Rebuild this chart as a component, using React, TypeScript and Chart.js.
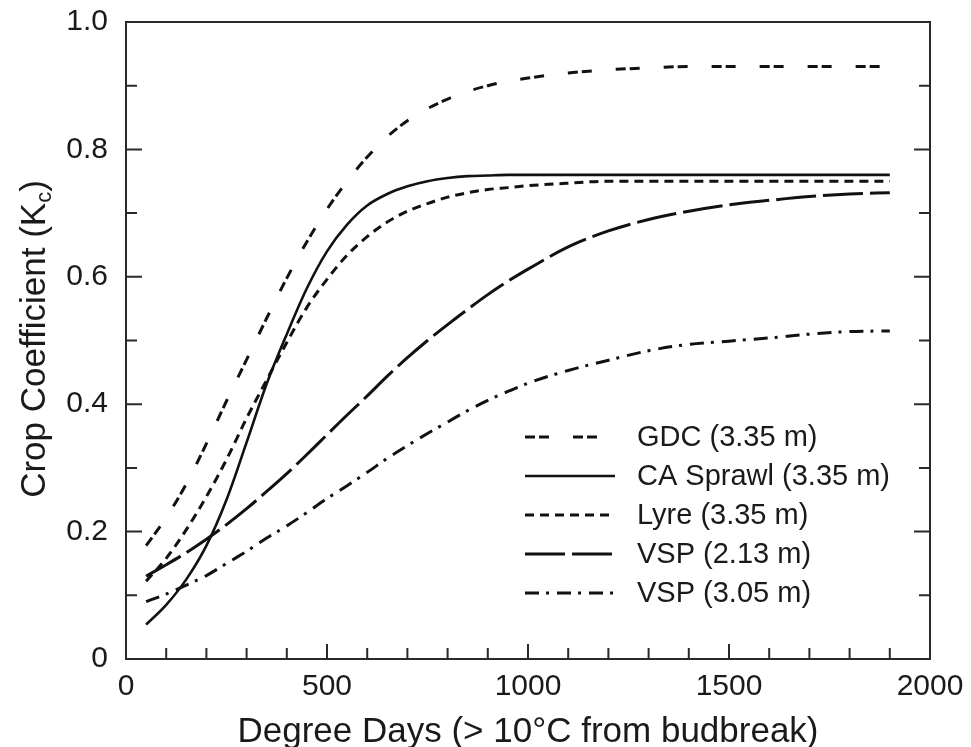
import React, { useEffect, useRef } from "react";
import { Chart, registerables } from "chart.js";

Chart.register(...registerables);

// ---------- data ----------
const degreeDays = [50, 100, 150, 200, 250, 300, 350, 400, 450, 500, 550, 600, 650, 700, 750, 800, 850, 900, 950, 1000, 1100, 1200, 1300, 1400, 1500, 1600, 1700, 1800, 1900];

const gdc = [0.178, 0.222, 0.275, 0.338, 0.405, 0.47, 0.535, 0.598, 0.655, 0.706, 0.75, 0.788, 0.82, 0.845, 0.864, 0.879, 0.891, 0.9, 0.907, 0.912, 0.92, 0.925, 0.928, 0.93, 0.93, 0.93, 0.93, 0.93, 0.93];
const caSprawl = [0.054, 0.085, 0.125, 0.178, 0.25, 0.34, 0.432, 0.51, 0.582, 0.64, 0.682, 0.712, 0.73, 0.742, 0.75, 0.755, 0.758, 0.759, 0.76, 0.76, 0.76, 0.76, 0.76, 0.76, 0.76, 0.76, 0.76, 0.76, 0.76];
const lyre = [0.122, 0.158, 0.203, 0.255, 0.313, 0.378, 0.438, 0.497, 0.552, 0.596, 0.634, 0.663, 0.686, 0.703, 0.715, 0.725, 0.732, 0.737, 0.74, 0.743, 0.747, 0.75, 0.75, 0.75, 0.75, 0.75, 0.75, 0.75, 0.75];
const vsp213 = [0.13, 0.148, 0.167, 0.188, 0.211, 0.236, 0.263, 0.291, 0.321, 0.352, 0.383, 0.413, 0.444, 0.473, 0.5, 0.525, 0.549, 0.572, 0.593, 0.612, 0.647, 0.672, 0.69, 0.703, 0.713, 0.72, 0.726, 0.73, 0.732];
const vsp305 = [0.09, 0.102, 0.116, 0.131, 0.15, 0.169, 0.19, 0.209, 0.23, 0.252, 0.272, 0.293, 0.315, 0.335, 0.354, 0.372, 0.39, 0.406, 0.42, 0.433, 0.453, 0.469, 0.484, 0.494, 0.499, 0.504, 0.51, 0.514, 0.515];

const seriesLabels = ["GDC (3.35 m)", "CA Sprawl (3.35 m)", "Lyre (3.35 m)", "VSP (2.13 m)", "VSP (3.05 m)"];
const xTicks = [0, 500, 1000, 1500, 2000];
const yTicks = [0, 0.2, 0.4, 0.6, 0.8, 1.0];
const xTitle = "Degree Days (> 10°C from budbreak)";
const yTitleMain = "Crop Coefficient (K";
const yTitleSub = "c";
const yTitleEnd = ")";

const FONT = "'Liberation Sans', Arial, Helvetica, sans-serif";
const INK = "#1a1a1a";

const styles = [
  { dash: [10, 4, 10, 24], width: 3 },
  { dash: [], width: 2.6 },
  { dash: [9, 6], width: 3 },
  { dash: [40, 7], width: 3 },
  { dash: [14, 7, 3, 8], width: 3 },
];

const seriesValues = [gdc, caSprawl, lyre, vsp213, vsp305];

const framePlugin = {
  id: "framePlugin",
  afterDraw(chart: any) {
    const { ctx, chartArea: a, scales } = chart;
    ctx.save();
    // frame
    ctx.strokeStyle = "#2a2a2a";
    ctx.lineWidth = 2;
    ctx.setLineDash([]);
    ctx.strokeRect(a.left, a.top, a.right - a.left, a.bottom - a.top);
    ctx.beginPath();
    for (let i = 0; i <= 10; i++) {
      const y = scales.y.getPixelForValue(i / 10);
      const len = i % 2 === 0 ? 16 : 11;
      ctx.moveTo(a.left, y);
      ctx.lineTo(a.left + len, y);
      ctx.moveTo(a.right, y);
      ctx.lineTo(a.right - len, y);
    }
    for (let i = 0; i <= 20; i++) {
      const x = scales.x.getPixelForValue(i * 100);
      const len = i % 5 === 0 ? 15 : 11;
      ctx.moveTo(x, a.bottom);
      ctx.lineTo(x, a.bottom - len);
    }
    ctx.stroke();

    // x title
    ctx.fillStyle = INK;
    ctx.font = `35px ${FONT}`;
    ctx.textAlign = "center";
    ctx.textBaseline = "alphabetic";
    ctx.fillText(xTitle, (a.left + a.right) / 2, 742);

    // y title with subscript
    ctx.save();
    ctx.translate(45, 339);
    ctx.rotate(-Math.PI / 2);
    ctx.textAlign = "left";
    ctx.font = `35px ${FONT}`;
    const w1 = ctx.measureText(yTitleMain).width;
    const w3 = ctx.measureText(yTitleEnd).width;
    ctx.font = `22px ${FONT}`;
    const w2 = ctx.measureText(yTitleSub).width;
    const total = w1 + w2 + w3;
    const x0 = -total / 2;
    ctx.font = `35px ${FONT}`;
    ctx.fillText(yTitleMain, x0, 0);
    ctx.font = `22px ${FONT}`;
    ctx.fillText(yTitleSub, x0 + w1, 6);
    ctx.font = `35px ${FONT}`;
    ctx.fillText(yTitleEnd, x0 + w1 + w2, 0);
    ctx.restore();

    // legend
    chart.data.datasets.forEach((ds: any, i: number) => {
      const y = 437 + i * 39;
      ctx.beginPath();
      ctx.strokeStyle = ds.borderColor;
      ctx.lineWidth = ds.borderWidth;
      ctx.setLineDash(ds.borderDash || []);
      ctx.moveTo(525, y);
      ctx.lineTo(615, y);
      ctx.stroke();
      ctx.setLineDash([]);
      ctx.fillStyle = INK;
      ctx.font = `29px ${FONT}`;
      ctx.textAlign = "left";
      ctx.textBaseline = "middle";
      ctx.fillText(ds.label, 637, y + 1);
    });
    ctx.restore();
  },
};

export default function App() {
  const ref = useRef<HTMLCanvasElement | null>(null);

  useEffect(() => {
    document.body.style.margin = "0";
    const canvas = ref.current;
    if (!canvas) return;
    const chart = new Chart(canvas, {
      type: "line",
      data: {
        datasets: seriesValues.map((vals, i) => ({
          label: seriesLabels[i],
          data: degreeDays.map((d, j) => ({ x: d, y: vals[j] })),
          borderColor: "#111111",
          borderWidth: styles[i].width,
          borderDash: styles[i].dash,
          pointRadius: 0,
          fill: false,
          cubicInterpolationMode: "monotone" as const,
        })),
      },
      options: {
        responsive: false,
        animation: false,
        devicePixelRatio: 1,
        layout: { padding: { top: 22, right: 41, left: 0, bottom: 0 } },
        plugins: { legend: { display: false }, tooltip: { enabled: false } },
        scales: {
          x: {
            type: "linear",
            min: 0,
            max: 2000,
            grid: { display: false, drawTicks: false, tickLength: 0 },
            border: { display: false },
            afterBuildTicks: (s: any) => {
              s.ticks = xTicks.map((v) => ({ value: v }));
            },
            afterFit: (s: any) => {
              s.height = 88;
              s.paddingLeft = 0;
              s.paddingRight = 0;
            },
            ticks: {
              padding: 10,
              maxRotation: 0,
              color: INK,
              font: { size: 30, family: FONT },
              callback: (v: any) => String(v),
            },
          },
          y: {
            type: "linear",
            min: 0,
            max: 1,
            grid: { display: false, drawTicks: false, tickLength: 0 },
            border: { display: false },
            afterBuildTicks: (s: any) => {
              s.ticks = yTicks.map((v) => ({ value: v }));
            },
            afterFit: (s: any) => {
              s.width = 126;
              s.paddingTop = 0;
              s.paddingBottom = 0;
            },
            ticks: {
              padding: 18,
              color: INK,
              font: { size: 30, family: FONT },
              callback: (v: any) => (Number(v) === 0 ? "0" : Number(v).toFixed(1)),
            },
          },
        },
      },
      plugins: [framePlugin],
    });
    return () => chart.destroy();
  }, []);

  return <canvas ref={ref} width={971} height={747} style={{ display: "block", width: 971, height: 747 }} />;
}
